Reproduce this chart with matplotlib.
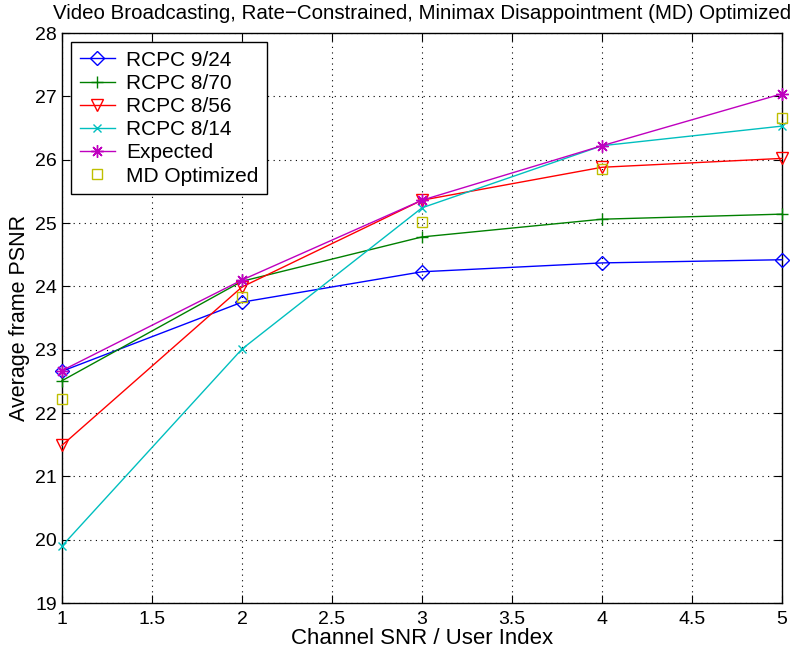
import matplotlib
matplotlib.use('Agg')
import matplotlib.pyplot as plt

plt.rcParams['font.family'] = ['Liberation Sans', 'DejaVu Sans']

x = [1, 2, 3, 4, 5]
rcpc_9_24 = [22.66, 23.75, 24.23, 24.37, 24.42]
rcpc_8_70 = [22.51, 24.08, 24.78, 25.06, 25.14]
rcpc_8_56 = [21.49, 23.99, 25.36, 25.88, 26.02]
rcpc_8_14 = [19.90, 23.01, 25.24, 26.22, 26.53]
expected = [22.67, 24.10, 25.36, 26.22, 27.04]
md_opt = [22.22, 23.83, 25.02, 25.86, 26.66]

fig = plt.figure(figsize=(8.02, 6.55), dpi=100)
ax = fig.add_axes([62/802, 52/655, 720/802, 570/655])

kw = dict(lw=1, clip_on=False, zorder=3)
ax.plot(x, rcpc_9_24, color='#0000ff', marker='D', mfc='none', ms=7, label='RCPC 9/24', **kw)
ax.plot(x, rcpc_8_70, color='#008000', marker='+', ms=9, label='RCPC 8/70', **kw)
ax.plot(x, rcpc_8_56, color='#ff0000', marker='v', mfc='none', ms=9, label='RCPC 8/56', **kw)
ax.plot(x, rcpc_8_14, color='#00bfbf', marker='x', ms=6, label='RCPC 8/14', **kw)
ax.plot(x, expected, color='#bf00bf', marker=(8, 2, 0), ms=9, mew=1, label='Expected', **kw)
ax.plot(x, md_opt, color='#bfbf00', marker='s', mfc='none', ls='none', ms=7,
        label='MD Optimized', clip_on=False, zorder=3)

ax.set_xlim(1, 5)
ax.set_ylim(19, 28)
ax.set_xticks([1, 1.5, 2, 2.5, 3, 3.5, 4, 4.5, 5])
ax.set_xticklabels(['1', '1.5', '2', '2.5', '3', '3.5', '4', '4.5', '5'])
ax.set_yticks(range(19, 29))
ax.tick_params(direction='in', top=True, right=True, labelsize=14, length=6)
ax.tick_params(axis='x', pad=6)
ax.grid(True, color='black', linestyle=(0, (1, 4)), linewidth=0.8)
for s in ax.spines.values():
    s.set_linewidth(1.0)

ax.set_xlabel('Channel SNR / User Index', fontsize=16, labelpad=0)
ax.set_ylabel('Average frame PSNR', fontsize=15.5, labelpad=4)
ax.set_title('Video Broadcasting, Rate\u2212Constrained, Minimax Disappointment (MD) Optimized',
             fontsize=14.8, pad=10)

leg = ax.legend(loc='upper left', fontsize=15, fancybox=False, framealpha=1,
                edgecolor='black', borderpad=0.4, labelspacing=0.2, handlelength=1.7,
                handletextpad=0.53, borderaxespad=0.45)
leg.get_frame().set_linewidth(1.0)

plt.savefig('out.png', dpi=100)
